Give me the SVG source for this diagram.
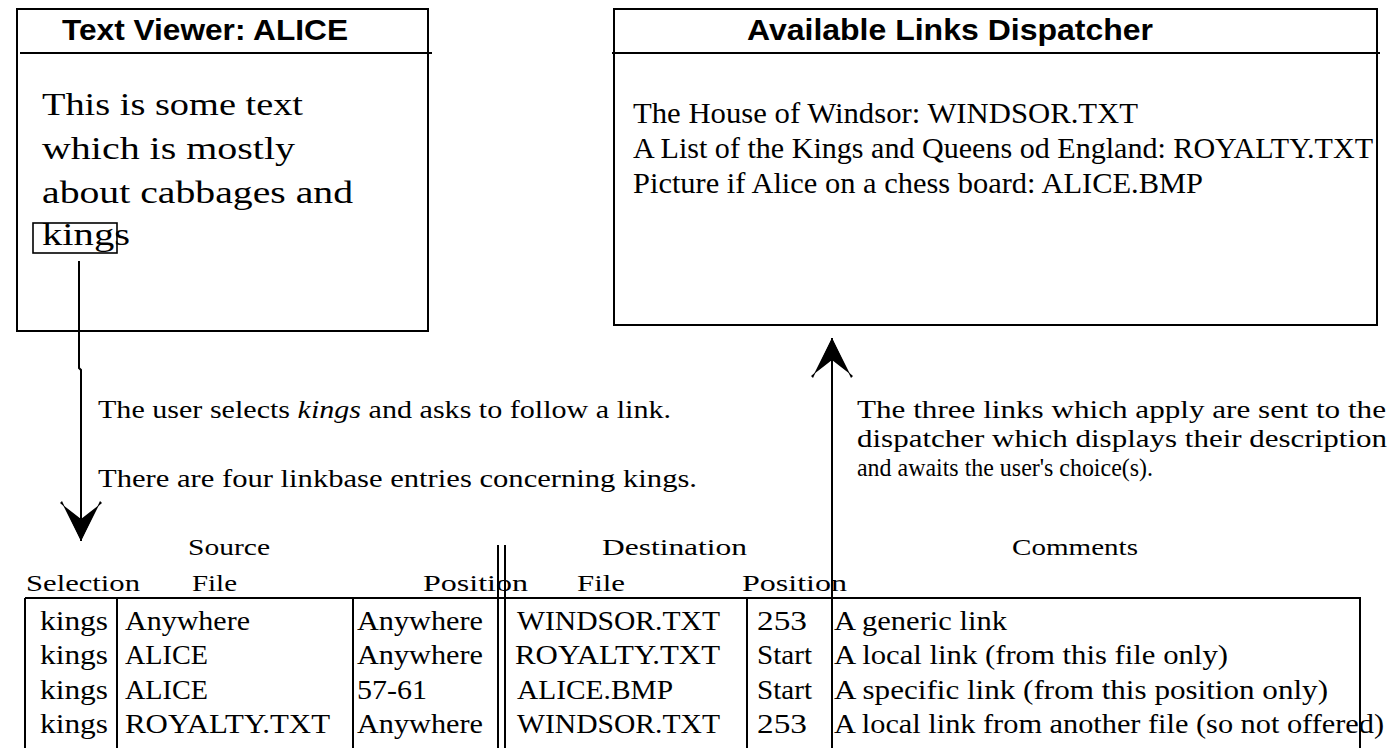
<svg xmlns="http://www.w3.org/2000/svg" width="1391" height="748" viewBox="0 0 1391 748">
<style>
  .box { fill: #fff; stroke: #000; stroke-width: 2; }
  .ln { stroke: #000; stroke-width: 2; fill: none; }
  .thin { stroke: #000; stroke-width: 1.6; fill: none; }
  .title { font-family: "Liberation Sans", Arial, sans-serif; font-weight: bold; font-size: 30px; fill: #000; }
  .body { font-family: "Liberation Serif", "Times New Roman", serif; font-size: 32px; fill: #000; }
  .disp { font-family: "Liberation Serif", "Times New Roman", serif; font-size: 29px; fill: #000; }
  .note { font-family: "Liberation Serif", "Times New Roman", serif; font-size: 25px; fill: #000; }
  .hdr { font-family: "Liberation Serif", "Times New Roman", serif; font-size: 24px; fill: #000; }
  .cell { font-family: "Liberation Serif", "Times New Roman", serif; font-size: 27px; fill: #000; }
</style>
<defs>
  <marker id="arrow" viewBox="0 -21 42 42" refX="40" refY="0" markerWidth="42" markerHeight="42" markerUnits="userSpaceOnUse" orient="auto">
    <path d="M40,0 L0,-19 L2,-21 L20,0 L2,21 L0,19 Z" fill="#000"/>
    <path d="M40,0 L4,-18 L18,0 L4,18 Z" fill="#000"/>
  </marker>
  <clipPath id="dispClip"><rect x="615" y="54" width="761" height="270"/></clipPath>
</defs>
<rect width="1391" height="748" fill="#fff"/>

<g id="node-text-viewer">
  <rect class="box" x="17" y="9" width="411" height="322"/>
  <line class="ln" x1="20" y1="53" x2="432" y2="53"/>
  <text class="title" x="62" y="40" textLength="286" lengthAdjust="spacingAndGlyphs">Text Viewer: ALICE</text>
  <text class="body" x="42" y="115" textLength="261" lengthAdjust="spacingAndGlyphs">This is some text</text>
  <text class="body" x="42" y="159" textLength="253" lengthAdjust="spacingAndGlyphs">which is mostly</text>
  <text class="body" x="42" y="203" textLength="311" lengthAdjust="spacingAndGlyphs">about cabbages and</text>
  <text class="body" x="42" y="245" textLength="88" lengthAdjust="spacingAndGlyphs">kings</text>
  <rect class="thin" x="33" y="223" width="84" height="30"/>
</g>

<g id="node-dispatcher">
  <rect class="box" x="614" y="9" width="763" height="316"/>
  <line class="ln" x1="612" y1="53" x2="1380" y2="53"/>
  <text class="title" x="747" y="40" textLength="406" lengthAdjust="spacingAndGlyphs">Available Links Dispatcher</text>
  <g clip-path="url(#dispClip)">
    <text class="disp" x="633" y="123" textLength="505" lengthAdjust="spacingAndGlyphs">The House of Windsor: WINDSOR.TXT</text>
    <text class="disp" x="633" y="158" textLength="740" lengthAdjust="spacingAndGlyphs">A List of the Kings and Queens od England: ROYALTY.TXT</text>
    <text class="disp" x="633" y="193" textLength="570" lengthAdjust="spacingAndGlyphs">Picture if Alice on a chess board: ALICE.BMP</text>
  </g>
</g>

<g id="labels">
  <text class="note" x="98" y="418" textLength="573" lengthAdjust="spacingAndGlyphs">The user selects <tspan font-style="italic">kings</tspan> and asks to follow a link.</text>
  <text class="note" x="98" y="487" textLength="599" lengthAdjust="spacingAndGlyphs">There are four linkbase entries concerning kings.</text>
  <text class="note" x="857" y="418" textLength="529" lengthAdjust="spacingAndGlyphs">The three links which apply are sent to the</text>
  <text class="note" x="857" y="447" textLength="530" lengthAdjust="spacingAndGlyphs">dispatcher which displays their description</text>
  <text class="note" x="857" y="476" textLength="296" lengthAdjust="spacingAndGlyphs">and awaits the user's choice(s).</text>
</g>

<g id="node-linkbase-table">
  <text class="hdr" x="188" y="555" textLength="82" lengthAdjust="spacingAndGlyphs">Source</text>
  <text class="hdr" x="602" y="555" textLength="145" lengthAdjust="spacingAndGlyphs">Destination</text>
  <text class="hdr" x="1012" y="555" textLength="126" lengthAdjust="spacingAndGlyphs">Comments</text>
  <text class="hdr" x="26" y="591" textLength="114" lengthAdjust="spacingAndGlyphs">Selection</text>
  <text class="hdr" x="192" y="591" textLength="45" lengthAdjust="spacingAndGlyphs">File</text>
  <text class="hdr" x="423" y="591" textLength="105" lengthAdjust="spacingAndGlyphs">Position</text>
  <text class="hdr" x="577" y="591" textLength="48" lengthAdjust="spacingAndGlyphs">File</text>
  <text class="hdr" x="742" y="591" textLength="105" lengthAdjust="spacingAndGlyphs">Position</text>

  <line class="ln" x1="25" y1="598" x2="1361" y2="598"/>
  <line class="ln" x1="25" y1="598" x2="25" y2="748"/>
  <line class="ln" x1="117" y1="598" x2="117" y2="748"/>
  <line class="ln" x1="353" y1="598" x2="353" y2="748"/>
  <line class="ln" x1="498" y1="545" x2="498" y2="748"/>
  <line class="ln" x1="505" y1="545" x2="505" y2="748"/>
  <line class="ln" x1="747" y1="598" x2="747" y2="748"/>
  <line class="ln" x1="1360" y1="598" x2="1360" y2="748"/>

  <text class="cell" x="40" y="630" textLength="68" lengthAdjust="spacingAndGlyphs">kings</text>
  <text class="cell" x="40" y="664" textLength="68" lengthAdjust="spacingAndGlyphs">kings</text>
  <text class="cell" x="40" y="699" textLength="68" lengthAdjust="spacingAndGlyphs">kings</text>
  <text class="cell" x="40" y="733" textLength="68" lengthAdjust="spacingAndGlyphs">kings</text>

  <text class="cell" x="125" y="630" textLength="125" lengthAdjust="spacingAndGlyphs">Anywhere</text>
  <text class="cell" x="125" y="664" textLength="83" lengthAdjust="spacingAndGlyphs">ALICE</text>
  <text class="cell" x="125" y="699" textLength="83" lengthAdjust="spacingAndGlyphs">ALICE</text>
  <text class="cell" x="125" y="733" textLength="205" lengthAdjust="spacingAndGlyphs">ROYALTY.TXT</text>

  <text class="cell" x="357" y="630" textLength="126" lengthAdjust="spacingAndGlyphs">Anywhere</text>
  <text class="cell" x="357" y="664" textLength="126" lengthAdjust="spacingAndGlyphs">Anywhere</text>
  <text class="cell" x="357" y="699" textLength="70" lengthAdjust="spacingAndGlyphs">57-61</text>
  <text class="cell" x="357" y="733" textLength="126" lengthAdjust="spacingAndGlyphs">Anywhere</text>

  <text class="cell" x="517" y="630" textLength="203" lengthAdjust="spacingAndGlyphs">WINDSOR.TXT</text>
  <text class="cell" x="515" y="664" textLength="205" lengthAdjust="spacingAndGlyphs">ROYALTY.TXT</text>
  <text class="cell" x="517" y="699" textLength="156" lengthAdjust="spacingAndGlyphs">ALICE.BMP</text>
  <text class="cell" x="517" y="733" textLength="203" lengthAdjust="spacingAndGlyphs">WINDSOR.TXT</text>

  <text class="cell" x="757" y="630" textLength="50" lengthAdjust="spacingAndGlyphs">253</text>
  <text class="cell" x="757" y="664" textLength="55" lengthAdjust="spacingAndGlyphs">Start</text>
  <text class="cell" x="757" y="699" textLength="55" lengthAdjust="spacingAndGlyphs">Start</text>
  <text class="cell" x="757" y="733" textLength="50" lengthAdjust="spacingAndGlyphs">253</text>

  <text class="cell" x="834" y="630" textLength="173" lengthAdjust="spacingAndGlyphs">A generic link</text>
  <text class="cell" x="834" y="664" textLength="394" lengthAdjust="spacingAndGlyphs">A local link (from this file only)</text>
  <text class="cell" x="834" y="699" textLength="494" lengthAdjust="spacingAndGlyphs">A specific link (from this position only)</text>
  <text class="cell" x="834" y="733" textLength="550" lengthAdjust="spacingAndGlyphs">A local link from another file (so not offered)</text>
</g>

<g id="connectors">
  <path class="ln" d="M79,261 V368 L81,370 V541" marker-end="url(#arrow)"/>
  <path class="ln" d="M832,748 V338" marker-end="url(#arrow)"/>
</g>
</svg>
